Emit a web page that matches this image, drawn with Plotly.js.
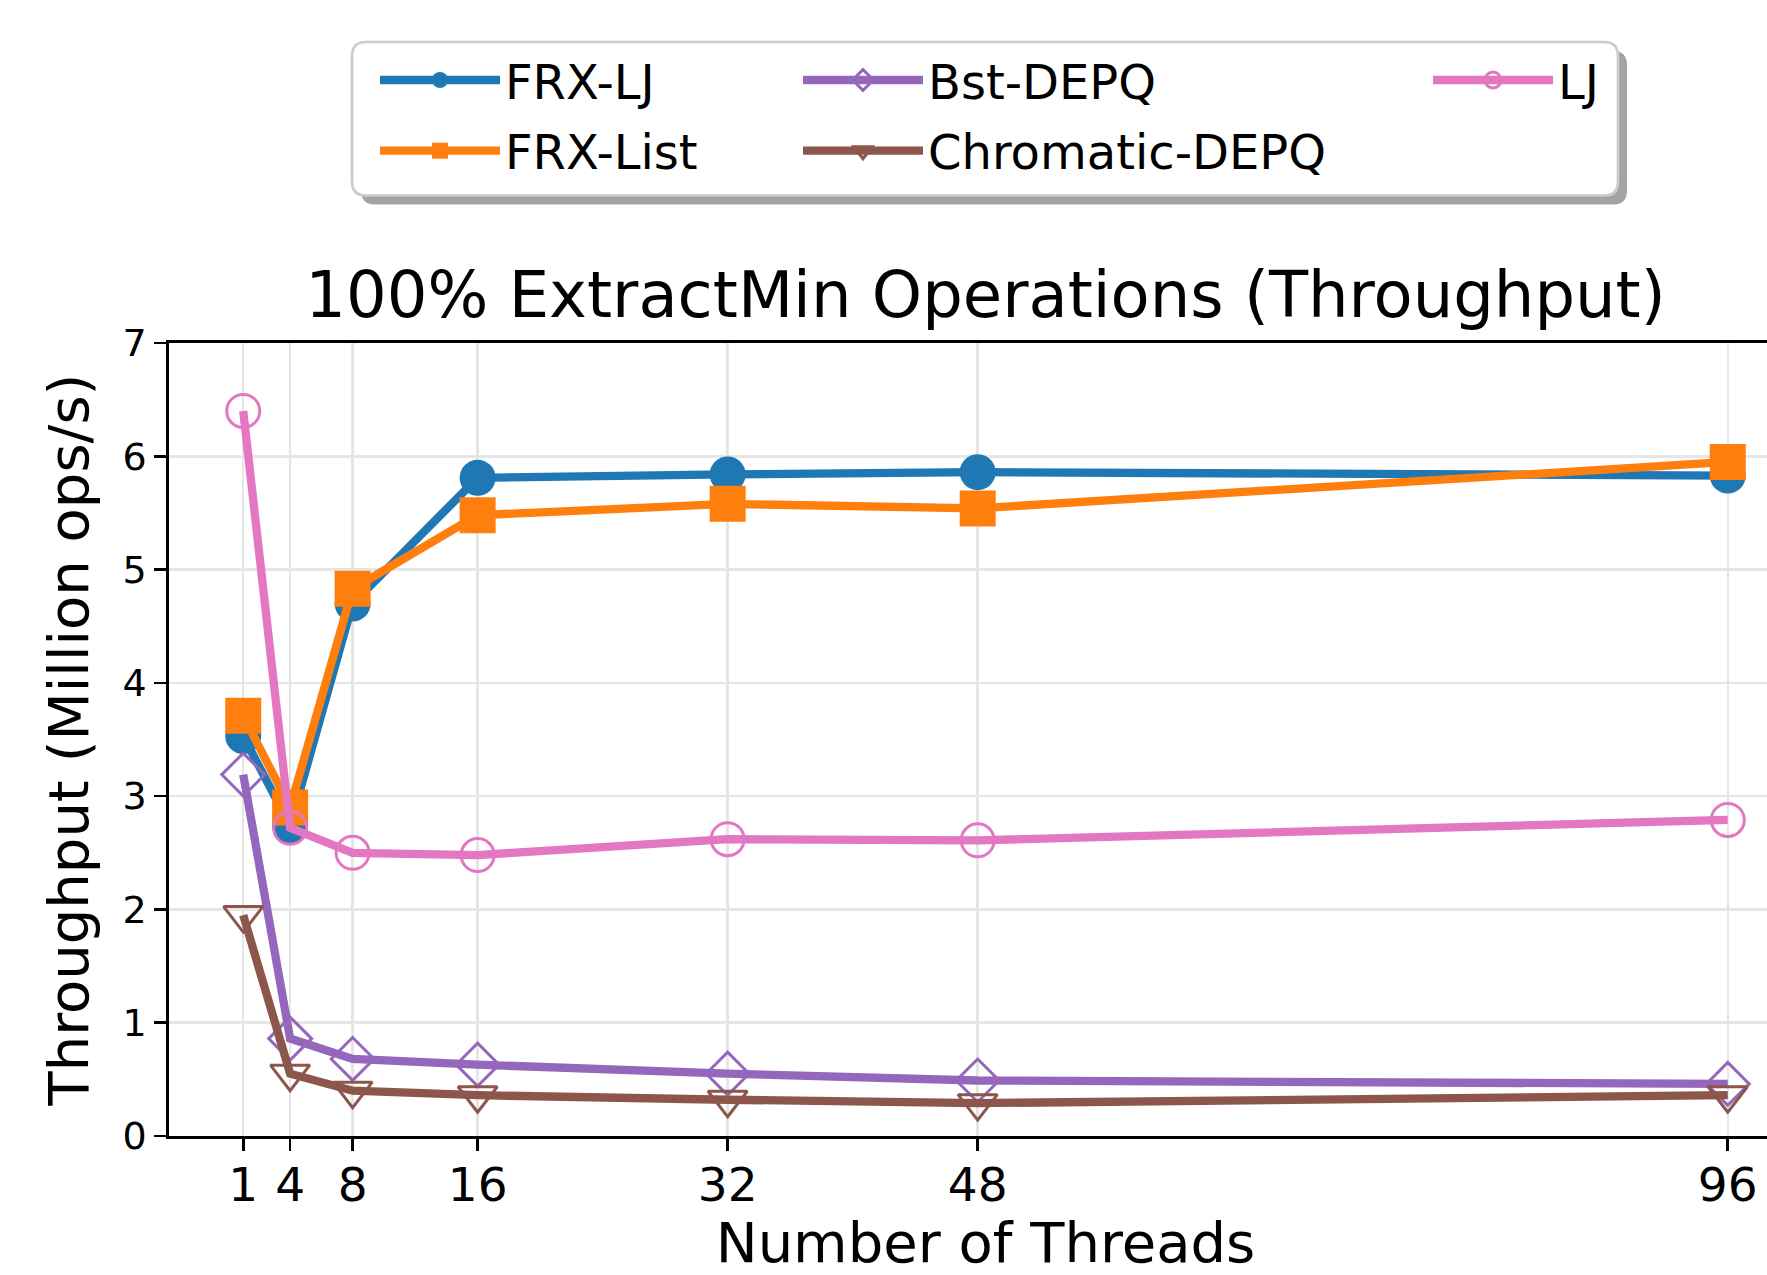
<!DOCTYPE html>
<html><head><meta charset="utf-8">
<script src="https://cdn.plot.ly/plotly-3.0.1.min.js"></script>
<style>html,body{margin:0;padding:0;overflow:hidden;background:#fff}#chart{width:1830px;height:1275px}</style>
</head><body><div id="chart"></div>
<script>
// ---- data ----
const threads = [1, 4, 8, 16, 32, 48, 96];
const frxLJ = [3.53, 2.74, 4.70, 5.81, 5.84, 5.86, 5.83];
const frxList = [3.71, 2.90, 4.83, 5.48, 5.58, 5.54, 5.95];
const bstDEPQ = [3.19, 0.86, 0.68, 0.63, 0.55, 0.49, 0.46];
const chromaticDEPQ = [1.95, 0.55, 0.40, 0.36, 0.32, 0.29, 0.36];
const lj = [6.40, 2.72, 2.50, 2.48, 2.62, 2.61, 2.79];
const seriesNames = ['FRX-LJ', 'FRX-List', 'Bst-DEPQ', 'Chromatic-DEPQ', 'LJ'];
const xTickLabels = ['1', '4', '8', '16', '32', '48', '96'];
const yTickValues = [0, 1, 2, 3, 4, 5, 6, 7];

// ---- geometry (pixels) ----
const W = 1830, H = 1275, ML = 169, MR = 28, MT = 343, MB = 139;
const PW = W - ML - MR, PH = H - MT - MB;
const px2x = p => (p - ML) / PW;
const py2y = p => (H - MB - p) / PH;
const FONT = 'DejaVu Sans, Verdana, sans-serif';

function roundRect(x0, y0, x1, y1, r) {
  const P = (x, y) => px2x(x).toFixed(5) + ',' + py2y(y).toFixed(5);
  return 'M' + P(x0 + r, y0) + ' L' + P(x1 - r, y0) + ' Q' + P(x1, y0) + ' ' + P(x1, y0 + r) +
    ' L' + P(x1, y1 - r) + ' Q' + P(x1, y1) + ' ' + P(x1 - r, y1) +
    ' L' + P(x0 + r, y1) + ' Q' + P(x0, y1) + ' ' + P(x0, y1 - r) +
    ' L' + P(x0, y0 + r) + ' Q' + P(x0, y0) + ' ' + P(x0 + r, y0) + ' Z';
}

const styles = [
  {y: frxLJ, color: '#1f77b4', symbol: 'circle', size: 36, legend: 'legend'},
  {y: frxList, color: '#ff7f0e', symbol: 'square', size: 36, legend: 'legend2'},
  {y: bstDEPQ, color: '#9467bd', symbol: 'diamond-open', size: 33, legend: 'legend3'},
  {y: chromaticDEPQ, color: '#8c564b', symbol: 'triangle-down-open', size: 34, legend: 'legend4'},
  {y: lj, color: '#e377c2', symbol: 'circle-open', size: 33, legend: 'legend5'}
];

const traces = styles.map((s, i) => ({
  type: 'scatter', mode: 'lines+markers', x: threads, y: s.y, name: seriesNames[i],
  legend: s.legend,
  line: {color: s.color, width: 8.3},
  marker: {color: s.color, symbol: s.symbol, size: s.size, line: {color: s.color, width: s.symbol.endsWith('open') ? 3 : 0}}
}));

function legendAt(left, top) {
  return {x: px2x(left), y: py2y(top), xanchor: 'left', yanchor: 'top', orientation: 'v',
    bgcolor: 'rgba(0,0,0,0)', borderwidth: 0, itemwidth: 120,
    font: {family: FONT, size: 48, color: '#000'}};
}

const layout = {
  width: W, height: H,
  margin: {l: ML, r: MR, t: MT, b: MB, pad: 0},
  paper_bgcolor: '#fff', plot_bgcolor: '#fff',
  font: {family: FONT, color: '#000'},
  title: {text: '100% ExtractMin Operations (Throughput)', font: {family: FONT, size: 64, color: '#000'},
    xref: 'paper', x: 0.5, xanchor: 'center', yref: 'container', y: 1 - 294.5 / H, yanchor: 'middle'},
  xaxis: {
    range: [-3.75, 100.75], tickmode: 'array', tickvals: threads, ticktext: xTickLabels,
    tickfont: {family: FONT, size: 47, color: '#000'}, ticklabelstandoff: -6,
    ticks: 'outside', ticklen: 12, tickwidth: 2.7, tickcolor: '#000',
    showline: true, linecolor: '#000', linewidth: 2.7, mirror: true,
    showgrid: true, gridcolor: '#e6e6e6', gridwidth: 2.5, zeroline: false,
    title: {text: 'Number of Threads', font: {family: FONT, size: 56, color: '#000'}, standoff: 25}
  },
  yaxis: {
    range: [0, 7], tickmode: 'array', tickvals: yTickValues,
    tickfont: {family: FONT, size: 38, color: '#000'},
    ticks: 'outside', ticklen: 12, tickwidth: 2.7, tickcolor: '#000',
    showline: true, linecolor: '#000', linewidth: 2.7, mirror: true,
    showgrid: true, gridcolor: '#e6e6e6', gridwidth: 2.5, zeroline: false,
    title: {text: 'Throughput (Million ops/s)', font: {family: FONT, size: 56, color: '#000'}, standoff: 16}
  },
  showlegend: true,
  legend: legendAt(375, 42.3),
  legend2: legendAt(375, 113),
  legend3: legendAt(798, 42.3),
  legend4: legendAt(798, 113),
  legend5: legendAt(1428, 42.3),
  shapes: [
    {type: 'path', xref: 'paper', yref: 'paper', layer: 'above', path: roundRect(361, 51, 1627, 204.5, 14),
      fillcolor: '#a3a3a3', line: {width: 0}},
    {type: 'path', xref: 'paper', yref: 'paper', layer: 'above', path: roundRect(352, 42, 1618, 195.5, 14),
      fillcolor: '#ffffff', line: {color: '#cccccc', width: 2.7}}
  ]
};

Plotly.newPlot('chart', traces, layout, {staticPlot: true, displayModeBar: false});
</script>
</body></html>
